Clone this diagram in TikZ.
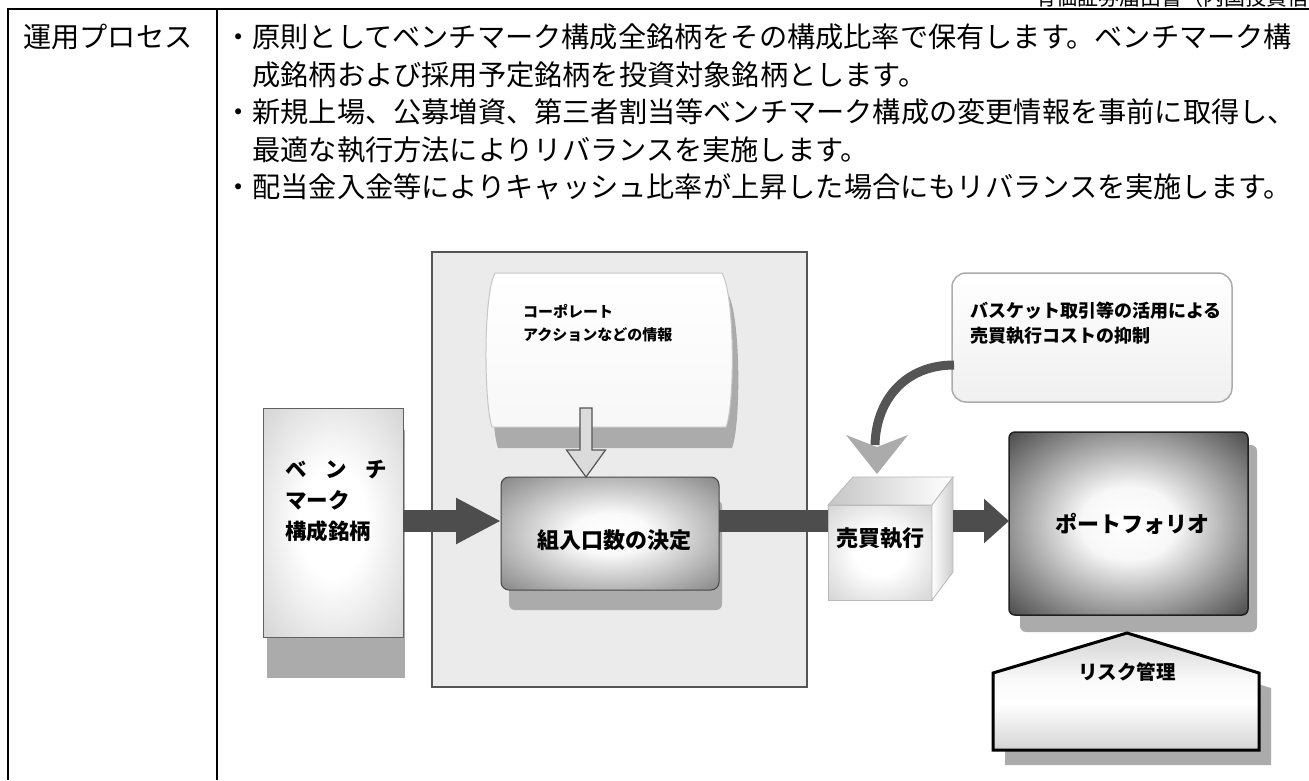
\documentclass[tikz,border=0pt]{standalone}
\usepackage{fontspec}
\setmainfont{Noto Sans CJK JP}
\usetikzlibrary{arrows.meta,calc}
\pgfdeclareradialshading{glowlight}{\pgfpoint{0bp}{0bp}}{rgb(0bp)=(1,1,1); rgb(12bp)=(1,1,1); rgb(40bp)=(0.80,0.80,0.80); rgb(50bp)=(0.74,0.74,0.74)}
\pgfdeclareradialshading{glowmid}{\pgfpoint{0bp}{0bp}}{rgb(0bp)=(1,1,1); rgb(9bp)=(0.98,0.98,0.98); rgb(34bp)=(0.55,0.55,0.55); rgb(50bp)=(0.47,0.47,0.47)}
\pgfdeclareradialshading{glowdark}{\pgfpoint{0bp}{0bp}}{rgb(0bp)=(1,1,1); rgb(10bp)=(0.97,0.97,0.97); rgb(34bp)=(0.33,0.33,0.33); rgb(50bp)=(0.24,0.24,0.24)}
\pgfdeclareverticalshading{riskshade}{100bp}{rgb(0bp)=(0.72,0.72,0.72); rgb(13bp)=(0.66,0.66,0.66); rgb(28bp)=(0.86,0.86,0.86); rgb(45bp)=(1,1,1); rgb(55bp)=(0.98,0.98,0.98); rgb(70bp)=(0.86,0.86,0.86); rgb(100bp)=(0.74,0.74,0.74)}
\definecolor{arrowgray}{HTML}{4D4D4D}
\definecolor{shadowgray}{HTML}{ABABAB}
\definecolor{panelgray}{HTML}{EBEBEB}
\definecolor{edgegray}{HTML}{555555}
\tikzset{
  rule/.style={line width=2pt, black},
  bodytext/.style={anchor=west, inner sep=0pt, font=\fontsize{28.2}{28.2}\selectfont},
  lbl/.style={inner sep=0pt, font=\bfseries\fontsize{#1}{#1}\selectfont},
  blockline/.style={line width=22pt, arrowgray},
  shadowfill/.style={fill=shadowgray},
  boxnode/.style={inner sep=0pt, outer sep=0pt},
}
\begin{document}
\begin{tikzpicture}[x=1pt,y=-1pt]
\useasboundingbox (0,0) rectangle (1309,780);
\clip (0,0) rectangle (1309,780);
\fill[white] (0,0) rectangle (1309,780);

% header (cut at top)
\node[anchor=base west, inner sep=0pt, font=\fontsize{21}{21}\selectfont] (hdr) at (1035,5) {有価証券届出書（内国投資信託受益証券）};

% table rules
\draw[rule] (7,8.5) -- (1309,8.5);
\draw[rule] (8,8.5) -- (8,780);
\draw[rule] (217,8.5) -- (217,780);

% texts
\node[bodytext] (hd) at (23,37) {運用プロセス};
\node[bodytext] (l1) at (224,37) {・原則としてベンチマーク構成全銘柄をその構成比率で保有します。ベンチマーク構};
\node[bodytext] (l2) at (252.2,75) {成銘柄および採用予定銘柄を投資対象銘柄とします。};
\node[bodytext] (l3) at (224,112) {・新規上場、公募増資、第三者割当等ベンチマーク構成の変更情報を事前に取得し、};
\node[bodytext] (l4) at (252.2,150) {最適な執行方法によりリバランスを実施します。};
\node[bodytext] (l5) at (224,187) {・配当金入金等によりキャッシュ比率が上昇した場合にもリバランスを実施します。};

% big panel
\node[boxnode, fill=panelgray, draw=edgegray, line width=2pt, minimum width=375pt, minimum height=435pt] (panel) at (619.5,469.5) {};

% benchmark box
\fill[shadowfill] (267,430) rectangle (405,678);
\node[boxnode, shade, shading=glowlight, draw=gray!75!black, line width=1pt, minimum width=140pt, minimum height=229pt] (bench) at (333,522.5) {};
\node[inner sep=0pt, anchor=west, align=left, font=\bfseries\fontsize{21.5}{31}\selectfont] (benchtxt) at (285,501) {\makebox[102pt][s]{ベ\hfil ン\hfil チ}\\マーク\\構成銘柄};

% corporate action box
\node[boxnode, minimum width=246pt, minimum height=154pt] (corp) at (610,350) {};
\fill[shadowfill, shift={(6,21)}] (495,273) -- (722,273) .. controls (735,295) and (735,405) .. (726,427) -- (492,427) .. controls (484,405) and (483,295) .. (495,273) -- cycle;
\shade[top color=white, bottom color=gray!6, draw=gray!45, line width=1pt] (495,273) -- (722,273) .. controls (735,295) and (735,405) .. (726,427) -- (492,427) .. controls (484,405) and (483,295) .. (495,273) -- cycle;
\node[inner sep=0pt, anchor=west, align=left, font=\bfseries\fontsize{15}{23}\selectfont] (corptxt) at (523,323.5) {コーポレート\\アクションなどの情報};

% decision box
\fill[shadowfill, rounded corners=6pt] (509,500) rectangle (722,610);
\node[boxnode, shade, shading=glowmid, draw=gray!55!black, line width=1pt, rounded corners=8pt, minimum width=218pt, minimum height=113pt] (kumiire) at (610,533.5) {};
\node[lbl=22] (kumiiretxt) at (614,540) {組入口数の決定};

% hollow arrow corp -> kumiire
\coordinate (ha) at ($(corp.south)+(-24,-19)$);
\coordinate (hb) at ($(kumiire.north)+(-24,0)$);
\draw[fill=gray!28, draw=edgegray, line width=1.2pt, line join=miter]
  ($(ha)+(-6,0)$) -- ($(ha)+(6,0)$) -- ($(hb)+(6,-27)$) -- ($(hb)+(19.5,-27)$) -- (hb) -- ($(hb)+(-19.5,-27)$) -- ($(hb)+(-6,-27)$) -- cycle;

% arrow bench -> kumiire
\draw[blockline, -{Triangle[length=45pt,width=43pt]}] (bench.east |- 0,521) -- (kumiire.west |- 0,521);

% cube (trade execution)
\node[boxnode, shade, shading=glowlight, draw=gray!55, line width=0.8pt, minimum width=104pt, minimum height=95pt] (cube) at (880,552.5) {};
\shade[left color=gray!45, right color=white, draw=gray!55, line width=0.8pt] (cube.north west) -- ($(cube.north west)+(25,-28)$) -- ($(cube.north east)+(21,-28)$) -- (cube.north east) -- cycle;
\shade[left color=white, right color=gray!40, draw=gray!55, line width=0.8pt] (cube.north east) -- ($(cube.north east)+(21,-28)$) -- ($(cube.south east)+(21,-28)$) -- (cube.south east) -- cycle;
\node[lbl=22] (cubetxt) at (880,538) {売買執行};

% bar kumiire -> cube
\draw[blockline] (kumiire.east |- 0,521) -- (cube.west |- 0,521);

% portfolio
\fill[shadowfill, rounded corners=6pt] (1020,445) rectangle (1257,632);
\node[boxnode, shade, shading=glowdark, draw=gray!25!black, line width=1.5pt, rounded corners=6pt, minimum width=239pt, minimum height=183pt] (port) at (1128.5,523.5) {};
\node[lbl=22] (porttxt) at (1132,524) {ポートフォリオ};

% arrow cube -> portfolio
\draw[blockline, -{Triangle[length=25pt,width=43pt]}] ($(cube.east |- 0,521)+(21,0)$) -- (port.west |- 0,521);

% callout
\node[boxnode, top color=white, bottom color=gray!12, draw=gray!65, line width=1.5pt, rounded corners=14pt, minimum width=280pt, minimum height=129pt] (callout) at (1092,337.5) {};
\node[inner sep=0pt, anchor=west, align=left, font=\bfseries\fontsize{18}{25}\selectfont] (callouttxt) at (970,323.5) {バスケット取引等の活用による\\売買執行コストの抑制};

% curved arrow callout -> cube
\coordinate (ctip) at ($(cube.north west)+(49,-31)$);
\draw[line width=9pt, edgegray] ($(callout.west |- 0,365)+(2,0)$) .. controls (905,365) and (876,400) .. ($(ctip)+(-2,-29)$);
\fill[shadowgray] ($(ctip)+(-31,-39)$) -- ($(ctip)+(0,-27)$) -- ($(ctip)+(31,-39)$) -- (ctip) -- cycle;

% risk management
\fill[shadowfill] (1005,688) -- (1139,648) -- (1271,688) -- (1271,765) -- (1005,765) -- cycle;
\shade[shading=riskshade, draw=black, line width=3pt, line join=miter] (993,750) -- (993,673) -- (1127,633) -- (1259,673) -- (1259,750) -- cycle;
\node[lbl=19.5] (risk) at (1127,672) {リスク管理};
\end{tikzpicture}
\end{document}
